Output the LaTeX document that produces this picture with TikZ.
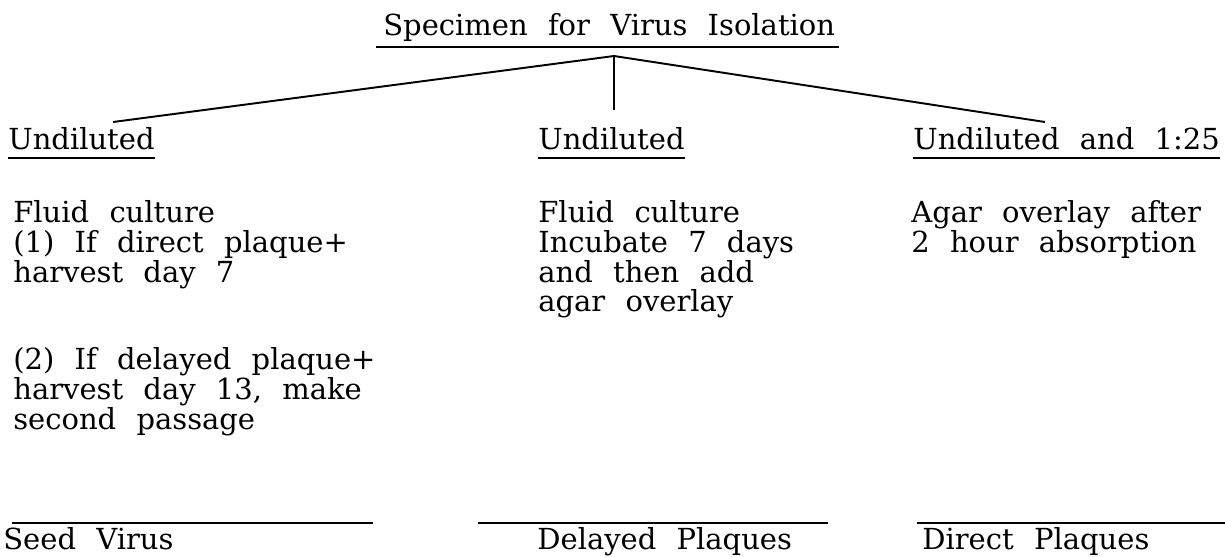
\documentclass[tikz,border=0pt]{standalone}
\usepackage{fontspec}
\setmainfont{DejaVu Serif}[WordSpace=2.2]
\usetikzlibrary{calc,positioning}
\newcommand\tightlines{\lineskiplimit=-20pt\relax}
\tikzset{
    mytext/.style={anchor=base west,inner sep=0pt,
      font=\fontsize{16.5}{17}\selectfont\tightlines},
    myblock/.style={mytext,anchor=north west,align=left},
    myrule/.style={line width=1.3pt,draw=black},
    myedge/.style={line width=1.1pt,draw=black}
}

\begin{document}
\begin{tikzpicture}[x=0.02cm,y=-0.02cm]
  \useasboundingbox (0,0) rectangle (1225,556);

  % title
  \node[mytext] (spec) at (383,35) {Specimen for Virus Isolation};
  \draw[myrule] ([xshift=-4pt,yshift=-7pt]spec.base west) -- ([xshift=2pt,yshift=-7pt]spec.base east);
  \coordinate (apex) at (614,56);

  % three branches
  \node[mytext] (undilA) at (8,149) {Undiluted};
  \node[mytext] (undilB) at (538,149) {Undiluted};
  \node[mytext] (undilC) at (913,149) {Undiluted and 1:25};
  \foreach \n in {undilA,undilB,undilC}{
    \draw[myrule] ([yshift=-5pt]\n.base west) -- ([yshift=-5pt]\n.base east);
  }
  \coordinate (endA) at (113,122);
  \coordinate (endC) at (1045,122);

  \draw[myedge] (apex) -- (endA);
  \draw[line width=0.8pt] (apex) -- (apex |- 0,110);
  \draw[myedge] (apex) -- (endC);

  % procedures
  \node[myblock] (fluidA) at (13,200) {Fluid culture\\(1) If direct plaque+\\harvest day 7\\[33pt](2) If delayed plaque+\\harvest day 13, make\\second passage};
  \node[myblock] (fluidB) at (538,200) {Fluid culture\\Incubate 7 days\\and then add\\agar overlay};
  \node[myblock] (agarC) at (911,200) {Agar overlay after\\2 hour absorption};

  % results
  \draw[myrule] (12,523) -- (373,523);
  \draw[myrule] (478,523) -- (828,523);
  \draw[myrule] (917,523) -- (1225,523);
  \node[mytext] (seed) at (3,549) {Seed Virus};
  \node[mytext] (delayed) at (537,549) {Delayed Plaques};
  \node[mytext] (direct) at (922,549) {Direct Plaques};
\end{tikzpicture}
\end{document}
